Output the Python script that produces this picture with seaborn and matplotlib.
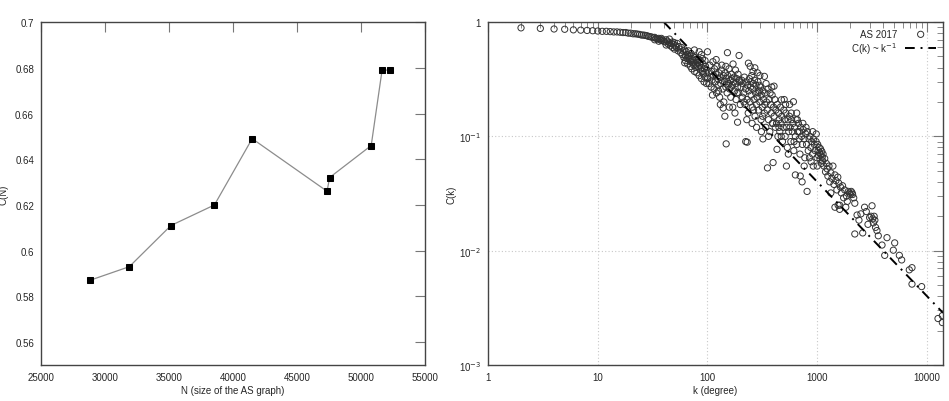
import numpy as np
import pandas as pd
import matplotlib
matplotlib.use("Agg")
import matplotlib.pyplot as plt
import matplotlib.ticker as mticker
import seaborn as sns

# left panel: clustering coefficient vs graph size
graph_size = [28800, 31900, 35150, 38550, 41500, 47350, 47550, 50800, 51650, 52300]
clust_n = [0.587, 0.593, 0.611, 0.620, 0.649, 0.626, 0.632, 0.646, 0.679, 0.679]

# right panel: C(k) vs degree, AS 2017
low_k = list(range(2, 41))
low_c = [0.89, 0.88, 0.87, 0.865, 0.855, 0.85, 0.845, 0.84, 0.835, 0.83, 0.83, 0.825,
         0.82, 0.82, 0.815, 0.81, 0.81, 0.80, 0.80, 0.79, 0.79, 0.785, 0.78, 0.77,
         0.77, 0.765, 0.76, 0.75, 0.745, 0.74, 0.73, 0.735, 0.72, 0.71, 0.72, 0.70,
         0.69, 0.70, 0.68]

pts_a = [(33, 0.70), (36, 0.68), (38, 0.72), (41, 0.67), (42, 0.63), (42, 0.70), (43, 0.68),
         (44, 0.64), (45, 0.66), (45, 0.71), (46, 0.62), (47, 0.65), (48, 0.60), (48, 0.67),
         (49, 0.64), (50, 0.58), (50, 0.66), (51, 0.62), (52, 0.60), (53, 0.65), (54, 0.56),
         (55, 0.61), (56, 0.58), (57, 0.54), (58, 0.60), (59, 0.52), (60, 0.56), (62, 0.44),
         (61, 0.49), (62, 0.57), (63, 0.51), (63, 0.46), (64, 0.55), (65, 0.48), (65, 0.52),
         (66, 0.43), (67, 0.50), (67, 0.56), (68, 0.47), (69, 0.51), (70, 0.41), (70, 0.45),
         (71, 0.53), (72, 0.48), (72, 0.39), (73, 0.44), (74, 0.50), (75, 0.42), (75, 0.46),
         (76, 0.37), (77, 0.49), (78, 0.43), (78, 0.40), (79, 0.47), (80, 0.36), (81, 0.44),
         (82, 0.41), (83, 0.47), (84, 0.34), (85, 0.42), (86, 0.39), (87, 0.45), (88, 0.32),
         (89, 0.40), (90, 0.37), (91, 0.43), (92, 0.35), (93, 0.30), (94, 0.39), (95, 0.33),
         (96, 0.41), (97, 0.36), (98, 0.29), (99, 0.38), (100, 0.32), (100, 0.55), (84, 0.55),
         (90, 0.48), (76, 0.57), (88, 0.52), (95, 0.46)]

pts_b = [(102, 0.36), (103, 0.29), (105, 0.42), (106, 0.33), (108, 0.27), (109, 0.37),
         (110, 0.31), (112, 0.45), (113, 0.34), (115, 0.26), (116, 0.39), (118, 0.30),
         (119, 0.35), (121, 0.24), (122, 0.41), (124, 0.32), (125, 0.28), (127, 0.36),
         (129, 0.22), (130, 0.33), (132, 0.29), (134, 0.38), (136, 0.31), (138, 0.26),
         (140, 0.34), (141, 0.20), (143, 0.30), (145, 0.36), (147, 0.27), (149, 0.32),
         (151, 0.24), (153, 0.34), (155, 0.29), (157, 0.39), (159, 0.26), (161, 0.31),
         (163, 0.22), (166, 0.35), (168, 0.28), (170, 0.18), (172, 0.30), (175, 0.33),
         (177, 0.25), (180, 0.29), (182, 0.21), (185, 0.32), (188, 0.27), (190, 0.35),
         (193, 0.24), (196, 0.30), (199, 0.19), (158, 0.18), (120, 0.47), (135, 0.42),
         (180, 0.38), (195, 0.31), (152, 0.54), (194, 0.51), (171, 0.43), (147, 0.41),
         (148, 0.086), (139, 0.177), (188, 0.133), (126, 0.25), (164, 0.27), (186, 0.24),
         (111, 0.23), (131, 0.19), (178, 0.16), (144, 0.15), (167, 0.32), (154, 0.28)]

pts_c = [(202, 0.27), (205, 0.31), (208, 0.22), (211, 0.29), (214, 0.24), (217, 0.33),
         (220, 0.19), (223, 0.26), (226, 0.30), (229, 0.21), (232, 0.28), (235, 0.16),
         (238, 0.25), (241, 0.32), (244, 0.20), (247, 0.27), (250, 0.23), (253, 0.34),
         (256, 0.18), (259, 0.26), (262, 0.29), (265, 0.21), (268, 0.31), (271, 0.15),
         (274, 0.24), (277, 0.28), (280, 0.19), (284, 0.22), (288, 0.30), (292, 0.17),
         (296, 0.25), (300, 0.20), (304, 0.27), (308, 0.14), (312, 0.23), (316, 0.18),
         (320, 0.25), (325, 0.21), (330, 0.16), (335, 0.24), (340, 0.12), (345, 0.20),
         (350, 0.17), (355, 0.26), (360, 0.14), (365, 0.21), (370, 0.11), (376, 0.19),
         (382, 0.16), (388, 0.23), (394, 0.13), (400, 0.18), (245, 0.41), (260, 0.37),
         (285, 0.36), (300, 0.34), (310, 0.11), (280, 0.12), (360, 0.10), (390, 0.13),
         (236, 0.437), (270, 0.398), (330, 0.335), (223, 0.090), (320, 0.095), (230, 0.089),
         (215, 0.20), (248, 0.30), (263, 0.17), (297, 0.28), (318, 0.15), (342, 0.29),
         (372, 0.24), (228, 0.14), (255, 0.13), (290, 0.24), (333, 0.19), (385, 0.27)]

pts_d = [(405, 0.15), (410, 0.21), (415, 0.12), (420, 0.17), (426, 0.13), (432, 0.19),
         (438, 0.10), (444, 0.16), (450, 0.14), (456, 0.11), (462, 0.18), (468, 0.13),
         (475, 0.15), (482, 0.09), (489, 0.12), (496, 0.17), (503, 0.14), (510, 0.10),
         (518, 0.16), (526, 0.12), (534, 0.08), (542, 0.14), (550, 0.11), (558, 0.15),
         (566, 0.12), (575, 0.09), (584, 0.14), (593, 0.11), (602, 0.13), (612, 0.075),
         (622, 0.12), (632, 0.10), (642, 0.14), (652, 0.085), (663, 0.11), (674, 0.13),
         (685, 0.095), (696, 0.07), (708, 0.12), (720, 0.10), (732, 0.085), (745, 0.115),
         (758, 0.095), (771, 0.065), (785, 0.105), (799, 0.085), (813, 0.11), (828, 0.075),
         (843, 0.095), (858, 0.10), (874, 0.08), (890, 0.09), (906, 0.07), (923, 0.095),
         (940, 0.085), (958, 0.075), (976, 0.09), (995, 0.065), (700, 0.045), (760, 0.055),
         (880, 0.06), (920, 0.055), (500, 0.21), (560, 0.19), (650, 0.16), (980, 0.105),
         (404, 0.275), (472, 0.209), (607, 0.201), (352, 0.053), (396, 0.059), (524, 0.055),
         (632, 0.046), (728, 0.040), (808, 0.033), (430, 0.077), (448, 0.12), (470, 0.10),
         (515, 0.19), (545, 0.07), (580, 0.16), (615, 0.09), (660, 0.14), (690, 0.11),
         (740, 0.13), (790, 0.12), (850, 0.065), (910, 0.11)]

pts_e = [(1010, 0.085), (1020, 0.075), (1030, 0.068), (1040, 0.080), (1050, 0.072),
         (1060, 0.063), (1070, 0.078), (1080, 0.069), (1090, 0.058), (1100, 0.074),
         (1110, 0.066), (1120, 0.061), (1130, 0.070), (1150, 0.055), (1170, 0.064),
         (1190, 0.049), (1210, 0.058), (1230, 0.052), (1250, 0.045), (1280, 0.055),
         (1300, 0.040), (1330, 0.048), (1330, 0.032), (1360, 0.043), (1390, 0.055),
         (1420, 0.038), (1450, 0.046), (1480, 0.041), (1510, 0.034), (1540, 0.044),
         (1570, 0.039), (1600, 0.025), (1630, 0.036), (1660, 0.032), (1700, 0.037),
         (1740, 0.029), (1780, 0.034), (1820, 0.024), (1850, 0.030), (1880, 0.027),
         (1920, 0.033), (1960, 0.032), (2000, 0.031), (2040, 0.033), (2080, 0.032),
         (1000, 0.055), (1450, 0.024), (1550, 0.025), (1600, 0.023)]

pts_f = [(2100, 0.031), (2150, 0.029), (2200, 0.026), (2306, 0.0205), (2400, 0.0185),
         (2500, 0.021), (2596, 0.0143), (2700, 0.024), (2800, 0.022), (2900, 0.017),
         (3000, 0.0195), (3100, 0.020), (3157, 0.0247), (3200, 0.019), (3250, 0.0175),
         (3300, 0.020), (3350, 0.0185), (3400, 0.016), (3500, 0.015), (3600, 0.0135),
         (3893, 0.0112), (4120, 0.0091), (4322, 0.013), (2200, 0.014),
         (4936, 0.0101), (5079, 0.0117), (5600, 0.0091), (5880, 0.0083), (6900, 0.0068),
         (7300, 0.0071), (7300, 0.0051), (8940, 0.00485), (12600, 0.00255),
         (13800, 0.0027), (13800, 0.00235)]

# power law guide C(k) = A / k
fit_amp = 40.0
fit_k = [40, 14000]

scatter_pts = pts_a + pts_b + pts_c + pts_d + pts_e + pts_f
df_k = pd.DataFrame({
    "k": low_k + [p[0] for p in scatter_pts],
    "C": low_c + [p[1] for p in scatter_pts],
})
df_fit = pd.DataFrame({"k": fit_k, "C": [fit_amp / k for k in fit_k]})
df_n = pd.DataFrame({"N": graph_size, "C": clust_n})

sns.set_theme(style="white")
plt.rcParams["font.family"] = ["Liberation Sans", "DejaVu Sans"]
plt.rcParams["font.size"] = 7
plt.rcParams["axes.edgecolor"] = "#444444"
plt.rcParams["axes.linewidth"] = 1.0

fig = plt.figure(figsize=(9.49, 4.02), dpi=100)
ax1 = fig.add_axes([0.0432, 0.0896, 0.4046, 0.853])
ax2 = fig.add_axes([0.5142, 0.0896, 0.4795, 0.853])

# left
sns.lineplot(data=df_n, x="N", y="C", ax=ax1, color="#8c8c8c", linewidth=0.9,
             marker="s", markersize=4.5, markerfacecolor="black",
             markeredgecolor="black")
ax1.set_xlim(25000, 55000)
ax1.set_ylim(0.55, 0.70)
ax1.set_xticks(range(25000, 55001, 5000))
ax1.set_yticks([0.56, 0.58, 0.60, 0.62, 0.64, 0.66, 0.68, 0.70])
ax1.yaxis.set_major_formatter(mticker.FormatStrFormatter("%g"))
ax1.set_xlabel("N (size of the AS graph)", fontsize=7, labelpad=2)
ax1.set_ylabel("C(N)", fontsize=7)
ax1.yaxis.set_label_coords(-0.085, 0.5)
ax1.tick_params(direction="in", length=7, width=0.8, top=True, right=True,
                labelsize=7, pad=5, color="#777777")

# right
sns.scatterplot(data=df_k, x="k", y="C", ax=ax2, marker="o", s=20,
                facecolors="none", edgecolor="#333333", linewidth=0.7,
                label="AS 2017", legend=False)
sns.lineplot(data=df_fit, x="k", y="C", ax=ax2, color="black", linewidth=1.4,
             linestyle=(0, (5, 3, 1, 3)), label="C(k) ~ k$^{-1}$", legend=False)
ax2.set_xscale("log")
ax2.set_yscale("log")
ax2.set_xlim(1, 14000)
ax2.set_ylim(1e-3, 1)
ax2.set_xticks([1, 10, 100, 1000, 10000])
ax2.xaxis.set_major_formatter(mticker.FuncFormatter(lambda v, p: "%d" % round(v)))
ax2.set_yticks([1e-3, 1e-2, 1e-1, 1])
ax2.yaxis.set_major_formatter(mticker.FuncFormatter(
    lambda v, p: "1" if v >= 0.99 else "10$^{%d}$" % round(np.log10(v))))
ax2.yaxis.set_minor_locator(mticker.LogLocator(base=10, subs=np.arange(2, 10), numticks=20))
ax2.xaxis.set_minor_locator(mticker.LogLocator(base=10, subs=np.arange(2, 10), numticks=20))
ax2.yaxis.set_minor_formatter(mticker.NullFormatter())
ax2.xaxis.set_minor_formatter(mticker.NullFormatter())
ax2.grid(True, which="major", color="#c8c8c8", linestyle=(0, (1, 2)), linewidth=0.8)
ax2.set_xlabel("k (degree)", fontsize=7, labelpad=2)
ax2.set_ylabel("C(k)", fontsize=7)
ax2.yaxis.set_label_coords(-0.07, 0.5)
ax2.tick_params(which="major", direction="in", length=7, width=0.8, top=True,
                right=True, labelsize=7, pad=5, color="#777777")
ax2.tick_params(which="minor", direction="in", length=4, width=0.6, top=True,
                right=True, color="#777777")
ax2.legend(loc="upper right", frameon=False, markerfirst=False, fontsize=7,
           handlelength=3.2, borderaxespad=0.3, labelspacing=0.1, handletextpad=0.8)

fig.savefig("out.png", dpi=100)
